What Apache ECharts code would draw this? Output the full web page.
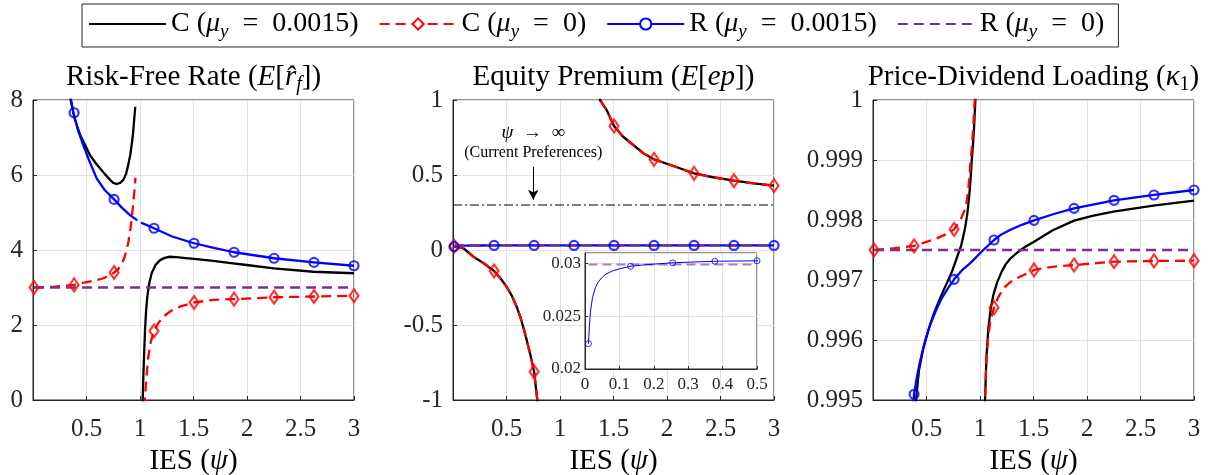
<!DOCTYPE html>
<html><head><meta charset="utf-8">
<script src="https://cdn.jsdelivr.net/npm/echarts@6/dist/echarts.min.js"></script>
<style>html,body{margin:0;padding:0;background:#fff}#c{width:1209px;height:475px}</style>
</head><body><div id="c"></div>
<script>
const FONT = 'Liberation Serif';
// ---------- data ----------
const markerX = [0.01, 0.384, 0.758, 1.131, 1.505, 1.879, 2.253, 2.626, 3.0];
const insetMarkerX = [0.01, 0.1325, 0.255, 0.3775, 0.5];

// Panel 1: Risk-free rate
const rfC_L = [[0.34,8.3],[0.352,8.0],[0.39,7.5],[0.44,7.07],[0.49,6.78],[0.533,6.53],[0.58,6.34],[0.626,6.18],[0.67,6.03],[0.72,5.87],[0.75,5.79],[0.78,5.76],[0.815,5.79],[0.844,5.87],[0.87,6.03],[0.89,6.27],[0.908,6.52],[0.922,6.8],[0.935,7.1],[0.944,7.42],[0.956,7.82]];
const rfC_R = [[1.024,-0.2],[1.025,0],[1.031,0.6],[1.037,1.1],[1.047,1.87],[1.057,2.38],[1.068,2.75],[1.087,3.12],[1.109,3.38],[1.145,3.6],[1.187,3.73],[1.23,3.79],[1.28,3.82],[1.34,3.81],[1.405,3.79],[1.55,3.75],[1.685,3.71],[1.85,3.65],[1.997,3.60],[2.25,3.51],[2.62,3.42],[3.0,3.38]];
const rfC0_L = [[0.01,3.0],[0.2,3.02],[0.384,3.07],[0.55,3.17],[0.65,3.24],[0.71,3.31],[0.758,3.40],[0.8,3.5],[0.83,3.64],[0.855,3.8],[0.875,4.0],[0.892,4.22],[0.907,4.49],[0.922,4.82],[0.935,5.2],[0.947,5.55],[0.958,5.93]];
const rfC0_R = [[1.044,-0.2],[1.045,0],[1.06,0.6],[1.078,1.16],[1.1,1.54],[1.131,1.84],[1.17,2.05],[1.218,2.22],[1.29,2.38],[1.374,2.49],[1.505,2.60],[1.685,2.67],[1.879,2.69],[2.253,2.74],[2.626,2.76],[3.0,2.78]];
const rfR_L = [[0.33,8.4],[0.377,7.66],[0.42,7.2],[0.47,6.8],[0.52,6.42],[0.595,5.91],[0.67,5.6],[0.758,5.35],[0.83,5.13],[0.907,4.93],[0.975,4.79]];
const rfR_R = [[1.01,4.73],[1.131,4.58],[1.3,4.36],[1.505,4.18],[1.7,4.05],[1.879,3.94],[2.253,3.78],[2.626,3.67],[3.0,3.58]];
const rfR0 = [[0.01,3.0],[3.0,3.0]];
const rfC0_mk = [3.0,3.07,3.40,1.84,2.60,2.69,2.74,2.76,2.78];
const rfR_mk = [null,7.66,5.35,4.58,4.18,3.94,3.78,3.67,3.58];

// Panel 2: Equity premium
const epC_L = [[0.01,0.025],[0.1,0.01],[0.19,-0.044],[0.29,-0.09],[0.384,-0.14],[0.445,-0.19],[0.50,-0.244],[0.55,-0.305],[0.595,-0.378],[0.635,-0.46],[0.673,-0.556],[0.72,-0.689],[0.758,-0.811],[0.788,-1.0],[0.795,-1.1]];
const epC_U = [[1.36,1.1],[1.374,1.0],[1.436,0.933],[1.505,0.827],[1.59,0.755],[1.685,0.70],[1.78,0.645],[1.879,0.604],[2.06,0.56],[2.253,0.511],[2.43,0.485],[2.626,0.462],[2.81,0.444],[3.0,0.429]];
const epC0_L = [[0.01,0.025],[0.1,0.01],[0.19,-0.044],[0.29,-0.09],[0.384,-0.14],[0.445,-0.19],[0.50,-0.244],[0.55,-0.305],[0.595,-0.378],[0.635,-0.46],[0.673,-0.556],[0.72,-0.689],[0.758,-0.811],[0.788,-1.0],[0.795,-1.1]];
const epC0_U = [[1.36,1.1],[1.374,1.0],[1.436,0.933],[1.505,0.827],[1.59,0.755],[1.685,0.70],[1.78,0.645],[1.879,0.604],[2.06,0.56],[2.253,0.511],[2.43,0.485],[2.626,0.462],[2.81,0.444],[3.0,0.429]];
const epR = [[0.01,0.0224],[0.0127,0.0240],[0.016,0.0255],[0.022,0.0268],[0.03,0.0277],[0.037,0.0282],[0.05,0.0287],[0.061,0.0290],[0.08,0.0293],[0.1,0.0295],[0.1325,0.02974],[0.18,0.0299],[0.255,0.03007],[0.3775,0.03022],[0.5,0.03026],[0.758,0.0303],[1.131,0.0304],[1.505,0.0304],[1.879,0.0305],[2.253,0.0305],[2.626,0.0305],[3.0,0.0305]];
const epR0 = [[0.01,0.0299],[3.0,0.0299]];
const epR0_inset = [[0.01,0.0299],[0.5,0.0299]];
const epC0_mk = [0.025,-0.14,-0.811,null,0.827,0.604,0.511,0.462,0.429];
const epR_mk = [0.0224,0.0302,0.0303,0.0304,0.0304,0.0305,0.0305,0.0305,0.0305];
const epInsetR_mk = [0.0224,0.02974,0.03007,0.03022,0.03026];
const limitLine = [[0,0.3],[3,0.3]];   // psi -> infinity (current preferences)
const arrowFromTo = [[0.75,0.555],[0.75,0.335]];
const annoPos = [[0.75,0.78],[0.75,0.645]];

// Panel 3: Price-dividend loading
const pdC_L = [[0.385,0.9948],[0.402,0.995],[0.43,0.9955],[0.47,0.995861],[0.515,0.99615],[0.564,0.996417],[0.625,0.99669],[0.689,0.996944],[0.74,0.99715],[0.782,0.997361],[0.825,0.99758],[0.86,0.997861],[0.882,0.99811],[0.9,0.998417],[0.912,0.99868],[0.922,0.998972],[0.934,0.99925],[0.944,0.999528],[0.956,0.999972],[0.958,1.0002]];
const pdC_R = [[1.043,0.9948],[1.047,0.995],[1.06,0.9957],[1.078,0.996194],[1.1,0.99652],[1.125,0.99675],[1.16,0.99696],[1.203,0.997139],[1.24,0.99726],[1.28,0.99735],[1.343,0.99745],[1.42,0.99755],[1.505,0.997639],[1.68,0.99783],[1.879,0.997989],[2.05,0.99807],[2.246,0.998139],[2.62,0.998239],[3.0,0.998322]];
const pdC0_L = [[0.01,0.9975],[0.2,0.99753],[0.384,0.997567],[0.595,0.997694],[0.68,0.99776],[0.758,0.997844],[0.82,0.99801],[0.855,0.99816],[0.876,0.998306],[0.893,0.99856],[0.907,0.998861],[0.922,0.99919],[0.937,0.999528],[0.956,1.0002]];
const pdC0_R = [[1.045,0.9948],[1.047,0.995],[1.06,0.9957],[1.078,0.996083],[1.1,0.99634],[1.131,0.996539],[1.17,0.99671],[1.218,0.996861],[1.28,0.99696],[1.343,0.997028],[1.505,0.997167],[1.68,0.99722],[1.879,0.99725],[2.253,0.997306],[2.626,0.997317],[3.0,0.997322]];
const pdR = [[0.375,0.9949],[0.384,0.995095],[0.41,0.99538],[0.439,0.995639],[0.485,0.99597],[0.533,0.99625],[0.585,0.99648],[0.642,0.996694],[0.7,0.99686],[0.758,0.997011],[0.83,0.99716],[0.907,0.997278],[1.031,0.9975],[1.131,0.997667],[1.2,0.99776],[1.28,0.997833],[1.39,0.99792],[1.505,0.997994],[1.69,0.9981],[1.879,0.998194],[2.253,0.998328],[2.626,0.998417],[3.0,0.9985]];
const pdR0 = [[0.01,0.9975],[3.0,0.9975]];
const pdC0_mk = [0.9975,0.997567,0.997844,0.996539,0.997167,0.99725,0.997306,0.997317,0.997322];
const pdR_mk = [null,0.995095,0.997011,0.997667,0.997994,0.998194,0.998328,0.998417,0.9985];

const legendNames = ['C1','C0','R1','R0'];
const EN = '\u2002';
const legendLabels = {
  C1: '{n|C (}{i|μ}{s|y}{n|' + EN + '=' + EN + '0.0015)}',
  C0: '{n|C (}{i|μ}{s|y}{n|' + EN + '=' + EN + '0)}',
  R1: '{n|R (}{i|μ}{s|y}{n|' + EN + '=' + EN + '0.0015)}',
  R0: '{n|R (}{i|μ}{s|y}{n|' + EN + '=' + EN + '0)}'
};
const titles = [
  '{n|Risk-Free Rate (}{i|E}{n|[}{i|r̂}{s|f}{n|])}',
  '{n|Equity Premium (}{i|E}{n|[}{i|ep}{n|])}',
  '{n|Price-Dividend Loading (}{i|κ}{s1|1}{n|)}'
];
const xName = '{n|IES (}{i|ψ}{n|)}';
const yRanges = [[0,8,2],[-1,1,0.5],[0.995,1,0.001]];

// ---------- styles ----------
const BLACK = '#000000', RED = '#ff0000', BLUE = '#0000ff', PURPLE = '#7E2F8E';
const LW = 2.3;
const richBig = (fs) => {
  const L = Math.round(fs * 1.2), sf = Math.round(fs * 0.68);
  const base = {fontFamily: FONT, color: '#000', fontWeight: 'normal'};
  return {
    n: Object.assign({fontSize: fs, lineHeight: L, verticalAlign: 'middle'}, base),
    i: Object.assign({fontSize: fs, fontStyle: 'italic', lineHeight: L, verticalAlign: 'middle'}, base),
    s: Object.assign({fontSize: sf, fontStyle: 'italic', lineHeight: sf, verticalAlign: 'bottom'}, base),
    s1: Object.assign({fontSize: sf, lineHeight: sf, verticalAlign: 'bottom'}, base)
  };
};
const gridLefts = [33, 453, 873];
const GW = 321, GT = 100, GH = 300;

const styles = {
  C1: {color: BLACK, dash: 'solid', symbol: 'none', item: {color: BLACK}},
  C0: {color: RED, dash: [10,6], symbol: 'diamond', symbolSize: [9,13], item: {color: '#fff', borderColor: RED, borderWidth: 2}},
  R1: {color: BLUE, dash: 'solid', symbol: 'circle', symbolSize: 9, item: {color: '#fff', borderColor: BLUE, borderWidth: 2}},
  R0: {color: PURPLE, dash: [10,6], symbol: 'none', item: {color: PURPLE}}
};
function seg(name, data, g, z) {
  const st = styles[name];
  return {name, type: 'line', xAxisIndex: g, yAxisIndex: g, data, showSymbol: false,
    symbol: st.symbol, symbolSize: st.symbolSize, itemStyle: st.item,
    lineStyle: {color: st.color, width: LW, type: st.dash, join: 'round'}, z: z || 2, clip: true, silent: true, animation: false};
}
function marks(name, ys, g, xs) {
  const st = styles[name];
  const data = [];
  (xs || markerX).forEach((x, i) => { if (ys[i] !== null) data.push([x, ys[i]]); });
  return {name: name + '_m', type: 'scatter', xAxisIndex: g, yAxisIndex: g, data,
    symbol: st.symbol, symbolSize: st.symbolSize,
    itemStyle: {color: 'rgba(255,255,255,0)', borderColor: st.color, borderWidth: 2.2},
    z: 6, clip: true, silent: true, animation: false};
}

const grids = [], xAxes = [], yAxes = [], titleOpts = [];
for (let g = 0; g < 3; g++) {
  grids.push({left: gridLefts[g], top: GT, width: GW, height: GH, show: true, borderColor: '#262626', borderWidth: 1, outerBoundsMode: 'none', containLabel: false});
  xAxes.push({gridIndex: g, type: 'value', min: 0, max: 3, interval: 0.5,
    axisLine: {show: true, onZero: false, lineStyle: {color: '#262626', width: 1}},
    axisTick: {show: true, inside: true, length: 4, lineStyle: {color: '#262626'}},
    axisLabel: {showMinLabel: false, fontFamily: FONT, fontSize: 25, color: '#262626', margin: 17},
    splitLine: {show: true, lineStyle: {color: '#e1e1e1', width: 1}},
    name: xName, nameLocation: 'middle', nameGap: 38,
    nameTextStyle: {rich: richBig(29)}});
  const yr = yRanges[g];
  yAxes.push({gridIndex: g, type: 'value', min: yr[0], max: yr[1], interval: yr[2],
    axisLine: {show: true, onZero: false, lineStyle: {color: '#262626', width: 1}},
    axisTick: {show: true, inside: true, length: 4, lineStyle: {color: '#262626'}},
    axisLabel: {fontFamily: FONT, fontSize: 25, color: '#262626', margin: 10,
      formatter: g === 2 ? (v => Math.abs(v - 1) < 1e-9 ? '1' : v.toFixed(3)) : (v => String(+v.toFixed(3)))},
    splitLine: {show: true, lineStyle: {color: '#e1e1e1', width: 1}}});
  titleOpts.push({text: titles[g], left: gridLefts[g] + GW / 2, top: 60, textAlign: 'center', padding: 0,
    textStyle: {fontFamily: FONT, fontWeight: 'normal', rich: richBig(29)}});
}
// inset
grids.push({left: 585, top: 253, width: 172, height: 116, show: true, backgroundColor: '#fff', borderColor: '#262626', borderWidth: 1, z: 9, outerBoundsMode: 'none', containLabel: false});
xAxes.push({gridIndex: 3, type: 'value', min: 0, max: 0.5, interval: 0.1, z: 10,
  axisLine: {show: true, onZero: false, lineStyle: {color: '#262626'}},
  axisTick: {show: true, inside: true, length: 3, lineStyle: {color: '#262626'}},
  axisLabel: {fontFamily: FONT, fontSize: 17, color: '#262626', margin: 7, formatter: v => String(+v.toFixed(2))},
  splitLine: {show: true, lineStyle: {color: '#e1e1e1'}}});
yAxes.push({gridIndex: 3, type: 'value', min: 0.02, max: 0.031, interval: 0.005, z: 10,
  axisLine: {show: true, onZero: false, lineStyle: {color: '#262626'}},
  axisTick: {show: true, inside: true, length: 3, lineStyle: {color: '#262626'}},
  axisLabel: {fontFamily: FONT, fontSize: 17, color: '#262626', margin: 4, showMaxLabel: false, formatter: v => String(+v.toFixed(3))},
  splitLine: {show: true, lineStyle: {color: '#e1e1e1'}}});

const series = [
  // panel 1
  seg('C1', rfC_L, 0), seg('C1', rfC_R, 0),
  seg('C0', rfC0_L, 0), seg('C0', rfC0_R, 0),
  seg('R1', rfR_L, 0), seg('R1', rfR_R, 0),
  seg('R0', rfR0, 0),
  marks('C0', rfC0_mk, 0), marks('R1', rfR_mk, 0),
  // panel 2
  seg('C1', epC_L, 1), seg('C1', epC_U, 1),
  seg('C0', epC0_L, 1), seg('C0', epC0_U, 1),
  seg('R1', epR, 1), seg('R0', epR0, 1),
  marks('C0', epC0_mk, 1), marks('R1', epR_mk, 1),
  {name: 'limit', type: 'line', xAxisIndex: 1, yAxisIndex: 1, data: limitLine, showSymbol: false, symbol: 'none',
   lineStyle: {color: '#000', width: 1, type: [9,3,2,3]}, silent: true, animation: false, z: 3,
   markLine: {silent: true, symbol: ['none', 'arrow'], symbolSize: [8, 10], animation: false,
     lineStyle: {color: '#000', width: 1, type: 'solid'}, label: {show: false},
     data: [[{coord: arrowFromTo[0]}, {coord: arrowFromTo[1]}]]},
   markPoint: {silent: true, animation: false, symbol: 'rect', symbolSize: 1, itemStyle: {color: 'rgba(0,0,0,0)'},
     label: {show: true, position: 'inside', color: '#000', fontFamily: FONT,
       rich: {n: {fontFamily: FONT, fontSize: 19, color: '#000'}, i: {fontFamily: FONT, fontSize: 19, fontStyle: 'italic', color: '#000'}, c: {fontFamily: FONT, fontSize: 16, color: '#000'}}},
     data: [{coord: annoPos[0], label: {formatter: '{i|ψ}{n|' + EN + '→' + EN + '∞}'}},
            {coord: annoPos[1], label: {formatter: '{c|(Current Preferences)}'}}]}},
  // inset
  {name: 'R0_inset', type: 'line', xAxisIndex: 3, yAxisIndex: 3, data: epR0_inset, showSymbol: false, symbol: 'none',
   lineStyle: {color: '#b57ab5', width: 2, type: [9,5]}, z: 11, silent: true, animation: false, clip: true},
  {name: 'R1_inset', type: 'line', xAxisIndex: 3, yAxisIndex: 3, data: epR, showSymbol: false, symbol: 'none',
   lineStyle: {color: BLUE, width: 1}, z: 12, silent: true, animation: false, clip: true},
  {name: 'R1_inset_m', type: 'scatter', xAxisIndex: 3, yAxisIndex: 3, data: insetMarkerX.map((x, i) => [x, epInsetR_mk[i]]),
   symbol: 'circle', symbolSize: 6, itemStyle: {color: 'rgba(255,255,255,0)', borderColor: BLUE, borderWidth: 1}, z: 13, silent: true, animation: false, clip: false}
];

// panel 3
series.push(seg('C1', pdC_L, 2), seg('C1', pdC_R, 2), seg('C0', pdC0_L, 2), seg('C0', pdC0_R, 2),
  seg('R1', pdR, 2), seg('R0', pdR0, 2), marks('C0', pdC0_mk, 2), marks('R1', pdR_mk, 2));

const chart = echarts.init(document.getElementById('c'), null, {renderer: 'canvas'});
chart.setOption({
  animation: false,
  backgroundColor: '#fff',
  textStyle: {fontFamily: FONT},
  title: titleOpts,
  legend: {data: [{name: 'C1', itemStyle: {opacity: 0}}, 'C0', 'R1', {name: 'R0', itemStyle: {opacity: 0}}],
    left: 82, top: 4, padding: [6, 14, 6, 6], itemGap: 20, itemWidth: 77, itemHeight: 14,
    borderColor: '#262626', borderWidth: 1, backgroundColor: '#fff', selectedMode: false,
    formatter: n => legendLabels[n], textStyle: {fontFamily: FONT, rich: richBig(28)}},
  grid: grids, xAxis: xAxes, yAxis: yAxes, series
});
</script></body></html>
